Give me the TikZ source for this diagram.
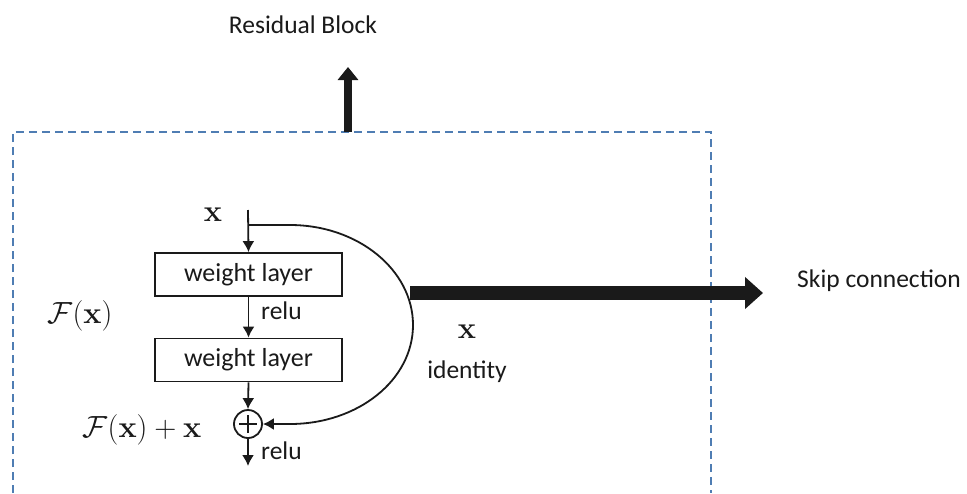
\documentclass[tikz,border=0pt]{standalone}
\usepackage[no-math]{fontspec}
\setmainfont{Carlito}
\usetikzlibrary{arrows.meta}
\definecolor{dashblue}{HTML}{4F7DB3}
\definecolor{ink}{HTML}{1A1A1A}
\begin{document}
\begin{tikzpicture}[x=1pt,y=-1pt,
  lbl/.style={font=\fontsize{25.5}{30}\selectfont, text=ink, inner sep=0pt},
  mlbl/.style={font=\fontsize{24.88}{30}\selectfont, text=ink, inner sep=0pt, scale=1.23, transform shape},
  wbox/.style={draw=ink, line width=1.8pt, minimum width=187pt, minimum height=43pt, inner sep=0pt, font=\fontsize{26}{30}\selectfont, text=ink},
  thin/.style={draw=ink, line width=1.8pt, -{Latex[length=11pt,width=12pt]}},
  bigarrow/.style={draw=ink, line width=14pt, -{Triangle[length=18pt,width=31pt]}}]
\useasboundingbox (0,0) rectangle (967,493);
\fill[white] (0,0) rectangle (967,493);
% dashed block
\draw[dashblue, line width=1.4pt, dash pattern=on 8pt off 5pt] (13,493) -- (13,132) -- (711,132) -- (711,493);
\coordinate (blocktop) at (348,132);
\coordinate (blockup) at (348,67);
\node[lbl] (title) at (303,25) {Residual Block};
\draw[draw=ink, line width=8pt, -{Triangle[length=13pt,width=20pt]}] (blocktop) -- (blockup);
% main path
\coordinate (in) at (248,210);
\coordinate (split) at (248,225);
\node[wbox] (w1) at (248.5,274.5) {weight layer};
\node[wbox] (w2) at (248.5,360) {weight layer};
\node[draw=ink, line width=1.8pt, circle, minimum size=28pt, inner sep=0pt] (plus) at (248,424) {};
\draw[ink, line width=1.8pt] ([xshift=-9pt]plus.center) -- ([xshift=9pt]plus.center)
  ([yshift=-9pt]plus.center) -- ([yshift=9pt]plus.center);
\coordinate (out) at (248,466);
\draw[thin] (in) -- (w1.north);
\draw[thin] (w1.south) -- (w2.north);
\draw[thin] (w2.south) -- (plus.north);
\draw[thin] (plus.south) -- (out);
% identity curve
\coordinate (c1) at (290,225);
\coordinate (cr) at (413,325);
\coordinate (c2) at (290,424);
\draw[thin] (split) -- (c1) .. controls (358,225) and (413,270) .. (cr)
  .. controls (413,380) and (358,424) .. (c2) -- (plus.east);
% labels
\node[mlbl] (xin) at (213,215) {$\mathbf{x}$};
\node[lbl, anchor=west] (relu1) at (261,311) {relu};
\node[lbl, anchor=west] (relu2) at (261,451) {relu};
\node[mlbl] (fx) at (80,316) {$\mathcal{F}(\mathbf{x})$};
\node[mlbl] (fxx) at (142,430) {$\mathcal{F}(\mathbf{x})+\mathbf{x}$};
\node[mlbl] (xid) at (467,332) {$\mathbf{x}$};
\node[lbl] (ident) at (467,372) {identity};
% skip connection
\coordinate (skipstart) at (410,293);
\coordinate (skipend) at (763,293);
\draw[bigarrow] (skipstart) -- (skipend);
\node[lbl, anchor=west] (skip) at (797,281) {Skip connection};
\end{tikzpicture}
\end{document}
